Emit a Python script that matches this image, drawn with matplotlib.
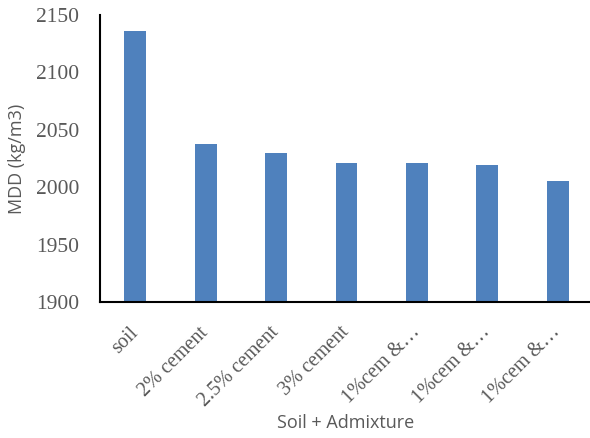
import matplotlib.pyplot as plt

# MDD values for each mix
categories = ['soil', '2% cement', '2.5% cement', '3% cement',
              '1%cem &…', '1%cem &…', '1%cem &…']
mdd = [2136, 2038, 2030, 2021, 2021, 2019, 2005]
yticks = [1900, 1950, 2000, 2050, 2100, 2150]

fig = plt.figure(figsize=(5.9, 4.38), dpi=100)
ax = fig.add_axes([100 / 590, 1 - 302 / 438, 493 / 590, 287 / 438])

x = range(len(categories))
ax.bar(x, mdd, width=0.31, color='#4F81BD', zorder=2)

ax.set_xlim(-0.5, len(categories) - 0.5)
ax.set_ylim(1900, 2150)
ax.set_yticks(yticks)
ax.set_xticks(list(x))

# serif tick labels, sans axis titles
ax.set_yticklabels([str(v) for v in yticks], family='Liberation Serif',
                   fontsize=15.5, color='#595959')
ax.set_xticklabels(categories, family='Liberation Serif', fontsize=14.5,
                   color='#595959', rotation=45, ha='right', va='center',
                   rotation_mode='anchor')
ax.tick_params(axis='y', length=0, pad=15)
ax.tick_params(axis='x', length=0, pad=20)

for s in ['top', 'right']:
    ax.spines[s].set_visible(False)
for s in ['left', 'bottom']:
    ax.spines[s].set_linewidth(1.5)
    ax.spines[s].set_color('black')

ax.set_ylabel('MDD (kg/m3)', family='Open Sans', fontsize=13,
              color='#595959')
ax.yaxis.set_label_coords(-74 / 493, 0.5)
ax.set_xlabel('Soil + Admixture', family='Open Sans', fontsize=13,
              color='#595959')
ax.xaxis.set_label_coords(246 / 493, -112 / 287)

fig.savefig('out.png', dpi=100)
